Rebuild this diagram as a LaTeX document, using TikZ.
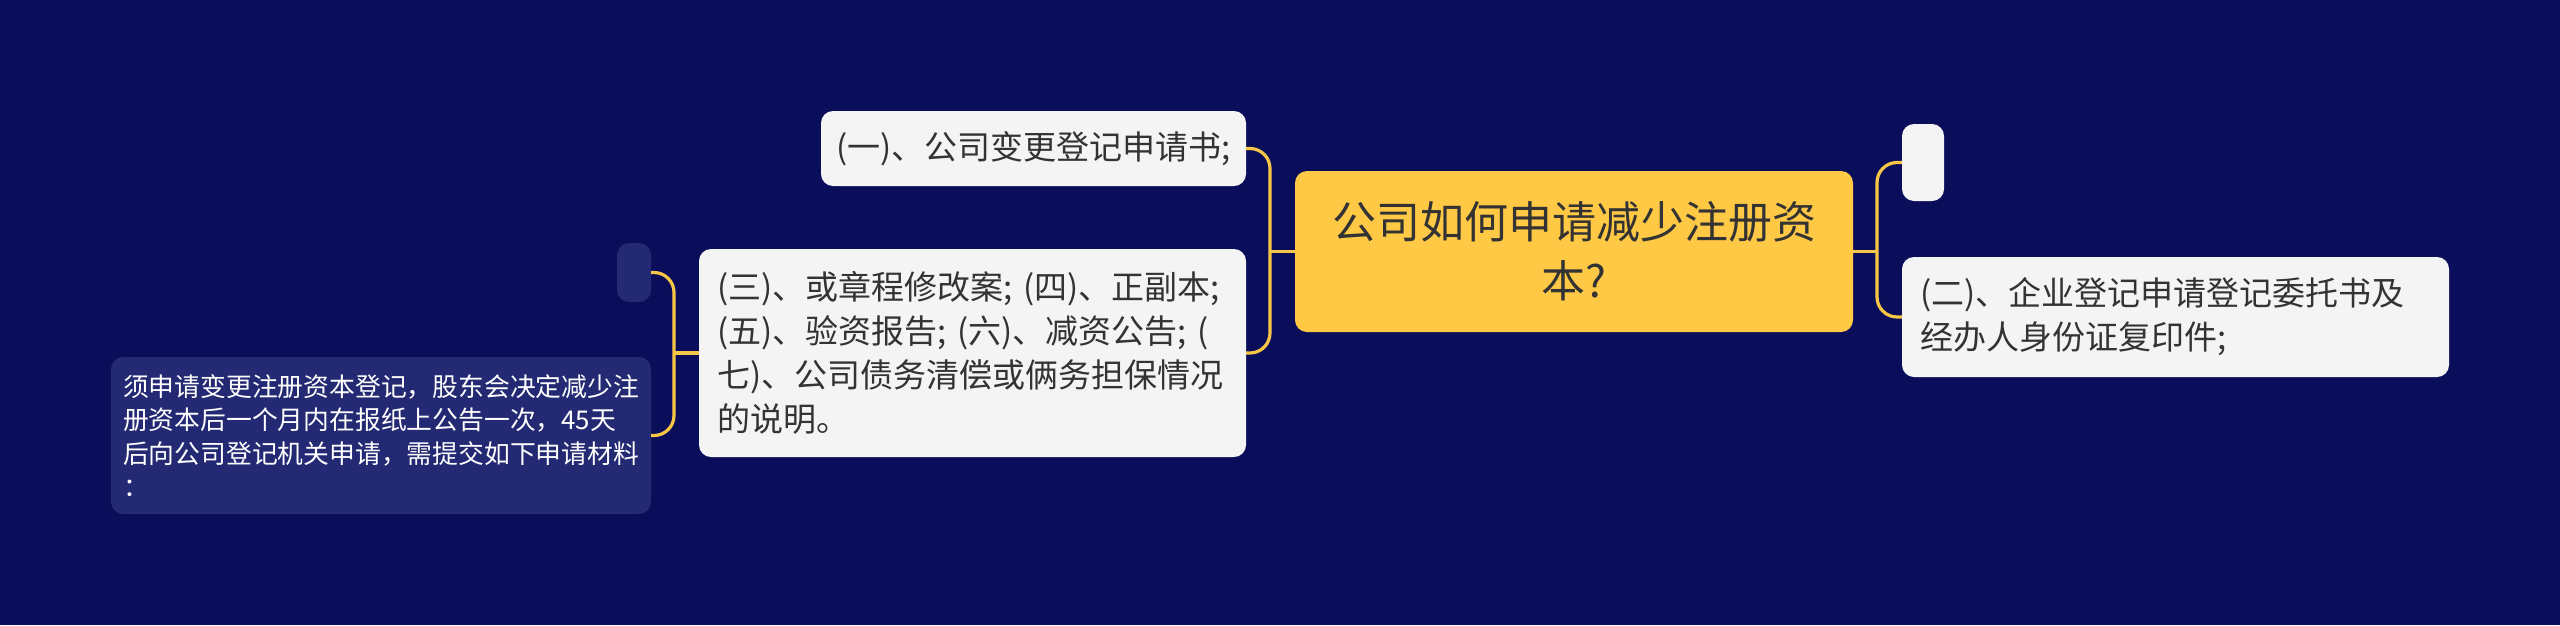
\documentclass[tikz,border=0pt]{standalone}
\usepackage{fontspec}
\setmainfont{Noto Sans CJK SC}
\definecolor{bgnavy}{HTML}{0A0E5A}
\definecolor{mainyellow}{HTML}{FFC845}
\definecolor{lightbox}{HTML}{F4F4F5}
\definecolor{darkbox}{HTML}{232A73}
\definecolor{linkcol}{HTML}{F8C646}
\definecolor{txtdark}{HTML}{333333}
\tikzset{
  rootbox/.style={fill=mainyellow, rounded corners=12pt, inner sep=0pt, text=txtdark, align=center,
    font=\fontsize{44}{59}\selectfont},
  lightnode/.style={fill=lightbox, rounded corners=12pt, inner sep=0pt, text=txtdark,
    font=\fontsize{33}{44}\selectfont},
  darknode/.style={fill=darkbox, rounded corners=12pt, inner sep=0pt, text=white,
    font=\fontsize{25.8}{33.5}\selectfont},
  link/.style={draw=linkcol, line width=3.2pt, rounded corners=20pt},
}
\begin{document}
\begin{tikzpicture}[x=1pt,y=-1pt]
\fill[bgnavy] (0,0) rectangle (2560,625);
\useasboundingbox (0,0) rectangle (2560,625);

\node[rootbox, minimum width=558pt, minimum height=161pt] (root) at (1574,251.5)
  {公司如何申请减少注册资\\本?};

\node[lightnode, minimum width=42pt, minimum height=77pt] (rt) at (1923,162.5) {};
\node[lightnode, minimum width=547pt, minimum height=120pt, text width=511pt, align=left] (rb) at (2175.5,317)
  {(二)、企业登记申请登记委托书及\\经办人身份证复印件;};

\node[lightnode, minimum width=425pt, minimum height=75pt, text width=395pt, align=left] (lt) at (1033.5,148.5)
  {(一)、公司变更登记申请书;};
\node[lightnode, minimum width=547pt, minimum height=208pt, text width=511pt, align=left] (lb) at (972.5,353)
  {(三)、或章程修改案; (四)、正副本;\\(五)、验资报告; (六)、减资公告; (\\七)、公司债务清偿或俩务担保情况\\的说明。};

\node[darknode, minimum width=34pt, minimum height=59pt] (fe) at (634,272.5) {};
\node[darknode, minimum width=540pt, minimum height=157pt, text width=516pt, align=left] (ft) at (381,435.5)
  {须申请变更注册资本登记，股东会决定减少注\\册资本后一个月内在报纸上公告一次，45天\\后向公司登记机关申请，需提交如下申请材料\\：};

\coordinate (jl) at (1270,251.5);
\coordinate (jr) at (1877,251.5);
\coordinate (jf) at (674,353);

\draw[link] (root.west) -- (jl);
\draw[link] (lt.east) -| (jl) |- (lb.east);
\draw[link] (root.east) -- (jr);
\draw[link] (rt.west) -| (jr) |- (rb.west);
\draw[link] (lb.west) -- (jf);
\draw[link] (fe.east) -| (jf) |- (ft.east);
\end{tikzpicture}
\end{document}
